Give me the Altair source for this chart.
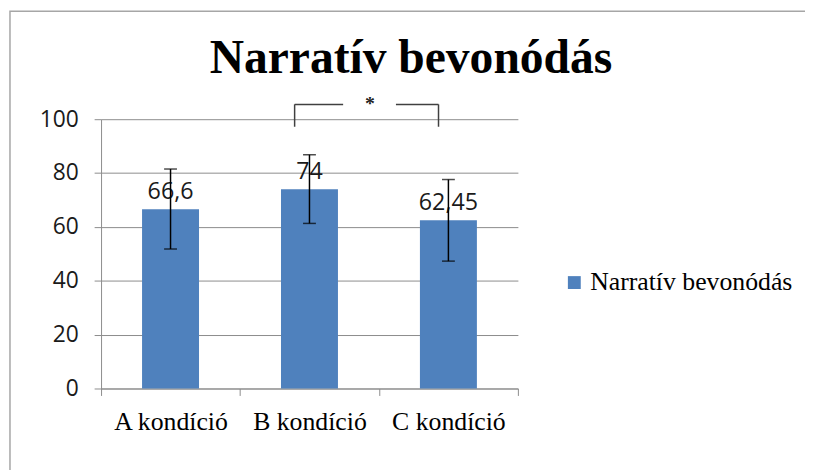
import altair as alt
import pandas as pd

# ---- data ----
categories = ["A kondíció", "B kondíció", "C kondíció"]
values = [66.6, 74.0, 62.45]
value_labels = ["66,6", "74", "62,45"]
err_low = [51.8, 61.3, 47.3]
err_high = [81.5, 86.8, 77.6]
series_name = "Narratív bevonódás"
chart_title = "Narratív bevonódás"
y_ticks = [0, 20, 40, 60, 80, 100]
bracket_pair = ["B kondíció", "C kondíció"]
bracket_low = [97.2]
bracket_high = [105.5]
bracket_mark = ["*"]

df = pd.DataFrame({
    "cat": categories,
    "value": values,
    "label": value_labels,
    "lo": err_low,
    "hi": err_high,
    "series": [series_name] * len(categories),
})
bracket_df = pd.DataFrame({
    "start": [bracket_pair[0]],
    "end": [bracket_pair[1]],
    "lo": bracket_low,
    "hi": bracket_high,
    "mark": bracket_mark,
})
one_row = pd.DataFrame({"t": [chart_title]})

W, H = 421, 272
AXIS_GRAY = "#8c8c8c"

x_axis = alt.Axis(
    title=None, labelAngle=0, tickBand="extent", tickSize=7, labelPadding=13,
    labelFont="Liberation Serif", labelFontSize=26, labelColor="black",
    domainColor=AXIS_GRAY, tickColor=AXIS_GRAY, grid=False, labelLimit=0,
)
y_axis = alt.Axis(
    title=None, values=y_ticks, tickSize=7, labelPadding=16,
    labelFont="Open Sans", labelFontSize=23, labelColor="#1a1a1a",
    domainColor=AXIS_GRAY, tickColor=AXIS_GRAY, grid=True,
    gridColor=AXIS_GRAY, gridWidth=1,
)
x_scale = alt.Scale(domain=categories, paddingInner=0, paddingOuter=0)
y_scale = alt.Scale(domain=[0, 100], nice=False)


def X(field):
    return alt.X(f"{field}:N", sort=categories, scale=x_scale, axis=x_axis)


def Y(field):
    return alt.Y(f"{field}:Q", scale=y_scale, axis=y_axis)


base = alt.Chart(df)

bars = base.mark_bar(width=alt.RelativeBandSize(0.41)).encode(
    x=X("cat"),
    y=Y("value"),
    color=alt.Color(
        "series:N",
        scale=alt.Scale(range=["#4f81bd"]),
        legend=alt.Legend(
            title=None, orient="none", legendX=465, legendY=152,
            symbolType="square", symbolSize=169, symbolStrokeWidth=0,
            labelFont="Liberation Serif", labelFontSize=26, labelLimit=0,
            labelColor="black", labelOffset=3, padding=0,
        ),
    ),
)

labels = base.mark_text(
    dy=-10, baseline="alphabetic", align="center",
    font="Open Sans", fontSize=23.5, color="#1a1a1a",
).encode(x=X("cat"), y=Y("value"), text="label:N")

err_rule = base.mark_rule(color="black", strokeWidth=1.5).encode(
    x=X("cat"), y=Y("lo"), y2="hi:Q"
)
cap_lo = base.mark_tick(orient="horizontal", size=13, thickness=1.5, color="black").encode(
    x=X("cat"), y=Y("lo")
)
cap_hi = base.mark_tick(orient="horizontal", size=13, thickness=1.5, color="black").encode(
    x=X("cat"), y=Y("hi")
)

bb = alt.Chart(bracket_df)
BR = dict(color="#404040", strokeWidth=1.5)
br_left_v = bb.mark_rule(xOffset=-15, **BR).encode(x=X("start"), y=Y("lo"), y2="hi:Q")
br_right_v = bb.mark_rule(xOffset=-10, **BR).encode(x=X("end"), y=Y("lo"), y2="hi:Q")
br_left_h = bb.mark_rule(xOffset=-15, x2Offset=34, **BR).encode(
    x=X("start"), x2="start:N", y=Y("hi")
)
br_right_h = bb.mark_rule(xOffset=-53, x2Offset=-10, **BR).encode(
    x=X("end"), x2="end:N", y=Y("hi")
)
br_star = bb.mark_text(
    dx=61, dy=6, baseline="alphabetic", align="center",
    font="Liberation Serif", fontSize=20, fontWeight="bold", color="#222222",
).encode(x=X("start"), y=Y("hi"), text="mark:N")

title = alt.Chart(one_row).mark_text(
    font="Liberation Serif", fontWeight="bold", fontSize=48,
    align="center", baseline="alphabetic", color="black",
).encode(x=alt.value(313), y=alt.value(-47), text="t:N")

border = alt.Chart(one_row).mark_rect(
    fillOpacity=0, stroke="#a6a6a6", strokeWidth=1.5
).encode(
    x=alt.value(-92), x2=alt.value(2000), y=alt.value(-109), y2=alt.value(2000)
)

chart = alt.layer(
    border, bars, labels, err_rule, cap_lo, cap_hi,
    br_left_v, br_right_v, br_left_h, br_right_h, br_star, title,
).properties(
    width=W, height=H,
    autosize=alt.AutoSizeParams(type="none"),
    padding={"left": 94, "top": 110, "right": 290, "bottom": 80},
    background="white",
).configure_view(stroke=None)

chart.save("out.html", embed_options={"renderer": "svg", "actions": False})
